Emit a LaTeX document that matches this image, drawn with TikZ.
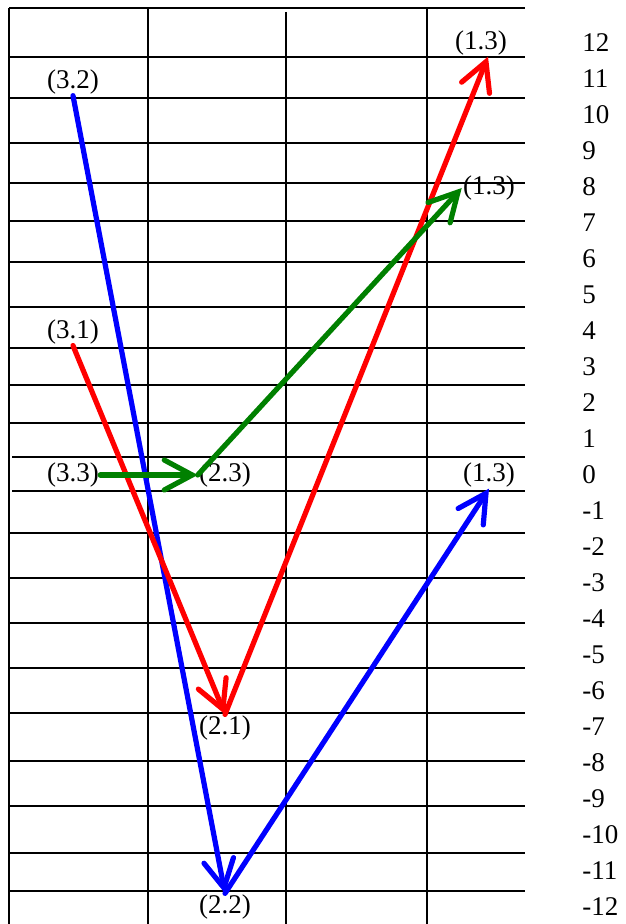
\documentclass[tikz,border=0pt]{standalone}
\usepackage{fontspec}
\setmainfont{Liberation Serif}
\usepackage{tikz}
\usetikzlibrary{arrows.meta}
\definecolor{vecred}{HTML}{FF0000}
\definecolor{vecblue}{HTML}{0000FF}
\definecolor{vecgreen}{HTML}{008000}
\tikzset{
  gridline/.style={
    line width=1pt, color=black
  },
  vecarrow/.style={
    -{Straight Barb[length=14pt, width=15pt, line cap=round]},
    line width=2.6pt, line cap=round, color=#1
  },
  vecarrow/.default=vecblue,
  pointlabel/.style={
    font=\fontsize{13.5}{16}\selectfont, inner sep=0.5pt
  },
  rowlabel/.style={
    font=\fontsize{13.5}{16}\selectfont, anchor=west, inner sep=0pt
  },
}

\begin{document}
\begin{tikzpicture}[x=0.5pt, y=-0.5pt]
  \useasboundingbox (0,0) rectangle (625,924);

  % Table
  \foreach \y in {8,57,98,143,183,221,262,307,348,385,423,533,578,623,668,713,761,806,853,891}
    \draw[gridline] (9,\y) -- (525,\y);
  \foreach \y in {457,491}
    \draw[gridline] (12,\y) -- (525,\y);
  \foreach \x/\t in {9/8,148/8,286/12,427/8}
    \draw[gridline] (\x,\t) -- (\x,924);

  % Row numbers
  \foreach \i in {-12,...,12}
    \node[rowlabel] (row\i) at (582,{475-36*\i}) {\i};

  % Points
  \node[pointlabel] (p32) at (73,82) {(3.2)};
  \node[pointlabel] (p31) at (73,332) {(3.1)};
  \node[pointlabel] (p33) at (73,475) {(3.3)};
  \node[pointlabel] (p23) at (225,475) {(2.3)};
  \node[pointlabel] (p21) at (225,728) {(2.1)};
  \node[pointlabel] (p22) at (225,907) {(2.2)};
  \node[pointlabel] (p13a) at (481,43) {(1.3)};
  \node[pointlabel] (p13b) at (489,188) {(1.3)};
  \node[pointlabel] (p13c) at (489,475) {(1.3)};

  % Arrows
  \draw[vecarrow=vecblue] (p32.south) -- (p22.north);
  \draw[vecarrow=vecblue] (p22.north) -- (p13c.south);
  \draw[vecarrow=vecred] (p31.south) -- (p21.north);
  \draw[vecarrow=vecred] (p21.north) -- ([xshift=3.5pt]p13a.south);
  \draw[vecarrow=vecgreen] (p33.east) -- (p23.west);
  \draw[vecarrow=vecgreen] (p23.west) -- (p13b.west);
\end{tikzpicture}
\end{document}
